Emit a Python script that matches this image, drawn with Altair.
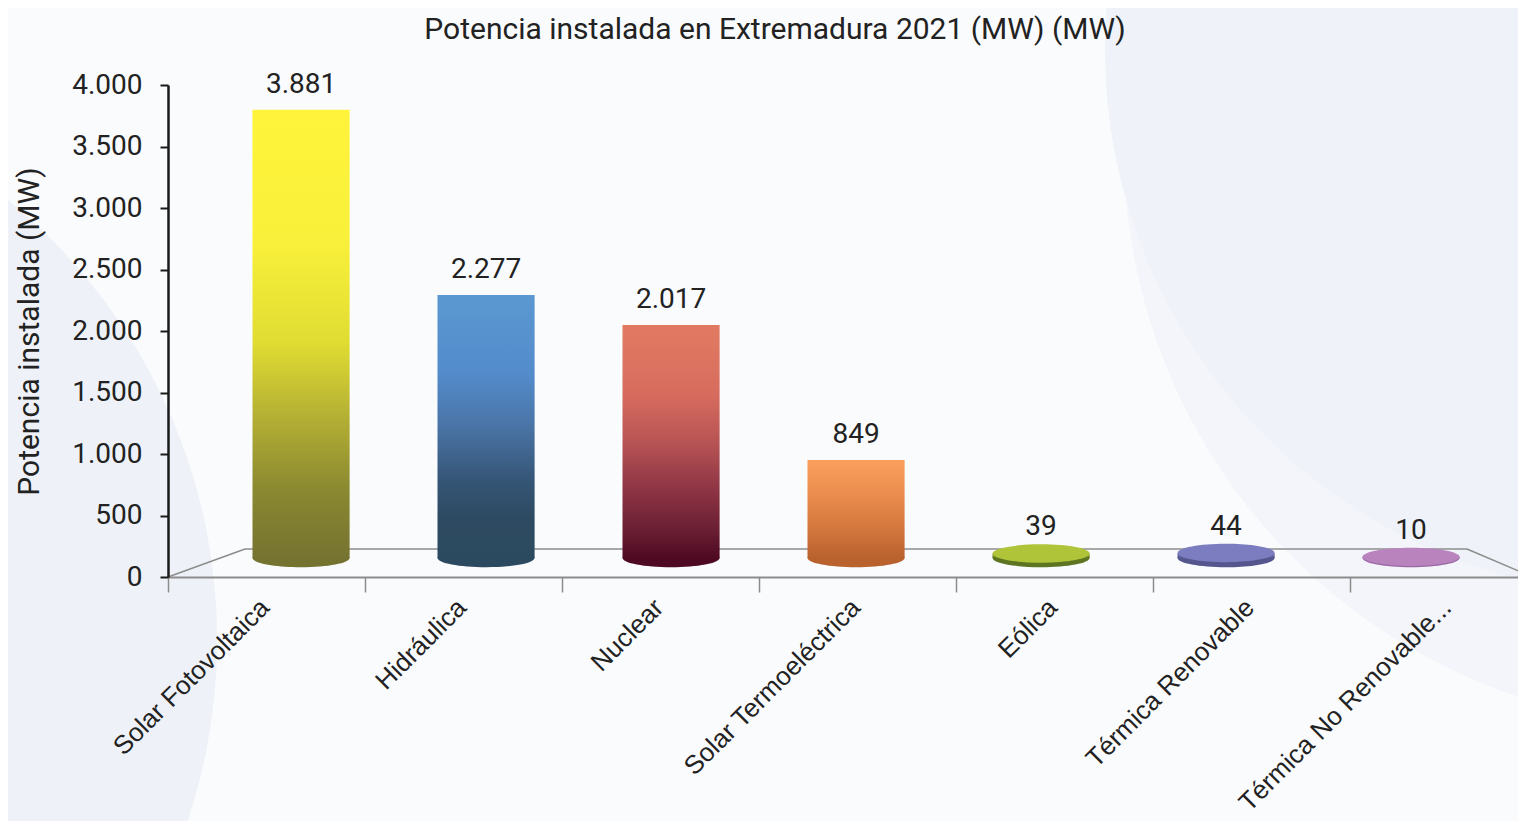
import altair as alt
import pandas as pd

title_text = "Potencia instalada en Extremadura 2021 (MW) (MW)"
categories = ["Solar Fotovoltaica", "Hidráulica", "Nuclear", "Solar Termoeléctrica",
              "Eólica", "Térmica Renovable", "Térmica No Renovable..."]
values = [3881, 2277, 2017, 849, 39, 44, 10]
value_labels = ["3.881", "2.277", "2.017", "849", "39", "44", "10"]
y_ticks = [0, 500, 1000, 1500, 2000, 2500, 3000, 3500, 4000]

# vertical gradient stops (top -> bottom) for each cylinder
gradient_stops = [
    [("#fff43b", 0.0), ("#f8f03a", 0.3), ("#e0dc32", 0.52), ("#b5b134", 0.68), ("#8a8830", 0.85), ("#757330", 1.0)],
    [("#5b98d1", 0.0), ("#538bcb", 0.3), ("#4a74a6", 0.5), ("#365677", 0.7), ("#2d4a62", 0.85), ("#2c4a5f", 1.0)],
    [("#e27a62", 0.0), ("#d76c5e", 0.3), ("#b85455", 0.5), ("#8f3545", 0.7), ("#6a1f33", 0.88), ("#4e0a22", 1.0)],
    [("#fa9f5e", 0.0), ("#ea8d4e", 0.35), ("#d3773d", 0.7), ("#b9622e", 1.0)],
    [("#8fa52f", 0.0), ("#5d7420", 1.0)],
    [("#6f6fb2", 0.0), ("#56568f", 1.0)],
    [("#ae78b6", 0.0), ("#9a66a4", 1.0)],
]
top_colors = ["#fff43b", "#5b98d1", "#e27a62", "#fa9f5e", "#b0c43a", "#7b7dc0", "#b983be"]
bottom_colors = ["#757330", "#2c4a5f", "#4e0a22", "#b9622e", "#5d7420", "#56568f", "#9a66a4"]

df = pd.DataFrame({
    "cat": categories,
    "value": values,
    "label": value_labels,
    "top": top_colors,
    "bottom": bottom_colors,
})

TEXT = "#222222"
NUM_FONT = "Roboto"
LABEL_FONT = "Liberation Sans"

# scales for the cylinders (drawn in a perspective floor slightly behind the axis)
xb = alt.X("cat:N", sort=categories,
           scale=alt.Scale(domain=categories, range=[84.5, 1291.6], paddingInner=0.475, paddingOuter=0),
           axis=None)
bar_y_scale = alt.Scale(domain=[0, 4000], nice=False, range=[473, 11])
yb = alt.Y("value:Q", scale=bar_y_scale, axis=None)

ellipse = "M-1,0A1,0.19,0,1,0,1,0A1,0.19,0,1,0,-1,0Z"
ell_size = 97 * 97

bottom_ell = alt.Chart(df).mark_point(shape=ellipse, size=ell_size, filled=True, opacity=1).encode(
    x=xb, y=alt.Y("zero:Q", scale=bar_y_scale, axis=None),
    color=alt.Color("bottom:N", scale=None),
).transform_calculate(zero="0")

bar_layers = []
for cat, stops in zip(categories, gradient_stops):
    grad = alt.Gradient(
        gradient="linear",
        stops=[alt.GradientStop(color=c, offset=o) for c, o in stops],
        x1=0, x2=0, y1=0, y2=1,
    )
    bar_layers.append(
        alt.Chart(df).transform_filter(alt.datum.cat == cat)
        .mark_bar(color=grad)
        .encode(x=xb, y=yb)
    )

top_ell = alt.Chart(df).transform_filter("datum.value < 100").mark_point(
    shape=ellipse, size=ell_size, filled=True, opacity=1).encode(
    x=xb, y=yb, color=alt.Color("top:N", scale=None))

text_tall = alt.Chart(df).transform_filter("datum.value >= 100").mark_text(
    font=NUM_FONT, fontSize=28, color=TEXT, baseline="bottom", dy=-11).encode(
    x=xb, y=yb, text="label:N")
text_small = alt.Chart(df).transform_filter("datum.value < 100").mark_text(
    font=NUM_FONT, fontSize=28, color=TEXT, baseline="bottom", dy=-12).encode(
    x=xb, y=yb, text="label:N")

inner = alt.layer(bottom_ell, *bar_layers, top_ell, text_tall, text_small)

# invisible layer that carries the axes
axis_layer = alt.Chart(df).mark_bar(opacity=0).encode(
    x=alt.X("cat:N", sort=categories,
            scale=alt.Scale(domain=categories, range=[0, 1379], paddingInner=0, paddingOuter=0),
            axis=alt.Axis(title=None, labelAngle=-45, labelFont=LABEL_FONT, labelFontSize=26,
                          labelColor=TEXT, labelPadding=2, labelOffset=-11,
                          domainColor="#8c8c8c", domainWidth=2,
                          tickColor="#8c8c8c", tickWidth=1.5, tickSize=15, tickBand="extent",
                          labelLimit=400, zindex=1)),
    y=alt.Y("value:Q", scale=alt.Scale(domain=[0, 4000], nice=False),
            axis=alt.Axis(values=y_ticks, grid=False,
                          labelExpr="replace(format(datum.value, ','), ',', '.')",
                          title="Potencia instalada (MW)", titleFont=NUM_FONT, titleFontSize=30,
                          titleFontWeight="normal", titleColor=TEXT, titlePadding=27,
                          labelFont=NUM_FONT, labelFontSize=28, labelColor=TEXT, labelPadding=18,
                          domainColor="#1a1a1a", domainWidth=2.5, tickColor="#1a1a1a",
                          tickWidth=2, tickSize=8, zindex=1)),
)

one = pd.DataFrame({"k": [0]})
# faint decorative background discs (pixel positions relative to the plot origin)
bg_left = alt.Chart(one).mark_point(shape="circle", filled=True, opacity=1, color="#eef2f8",
                                    size=3.1416 * 640 * 640).encode(
    x=alt.value(-518), y=alt.value(555))
bg_right_outer = alt.Chart(one).mark_point(shape="circle", filled=True, opacity=1, color="#f3f5fa",
                                           size=3.1416 * 650 * 650).encode(
    x=alt.value(1532), y=alt.value(65))
bg_right_inner = alt.Chart(one).mark_point(shape="circle", filled=True, opacity=1, color="#eff2f8",
                                           size=3.1416 * 615 * 615).encode(
    x=alt.value(1482), y=alt.value(-35))

floor_color = "#8c8c8c"
floor_back = alt.Chart(one).mark_rule(color=floor_color, strokeWidth=1.5).encode(
    x=alt.value(77), x2=alt.value(1299), y=alt.value(464), y2=alt.value(464))
floor_left = alt.Chart(one).mark_rule(color=floor_color, strokeWidth=1.5).encode(
    x=alt.value(0), x2=alt.value(77), y=alt.value(492), y2=alt.value(464))
floor_right = alt.Chart(one).mark_rule(color=floor_color, strokeWidth=1.5).encode(
    x=alt.value(1299), x2=alt.value(1360), y=alt.value(464), y2=alt.value(490))

title_layer = alt.Chart(pd.DataFrame({"t": [title_text]})).mark_text(
    font=NUM_FONT, fontSize=30, color=TEXT, align="center", baseline="alphabetic").encode(
    x=alt.value(607), y=alt.value(-46), text="t:N")

chart = alt.layer(bg_right_outer, bg_right_inner, bg_left, axis_layer,
                  floor_back, floor_left, floor_right, inner, title_layer).resolve_scale(
    x="independent", y="independent"
).properties(
    width=1350, height=492,
    autosize=alt.AutoSizeParams(type="none"),
    padding={"left": 160, "top": 77, "right": 0, "bottom": 244},
    background="#fafbfd",
).configure_view(stroke=None)

chart.save("out.html", embed_options={"renderer": "svg", "actions": False})
